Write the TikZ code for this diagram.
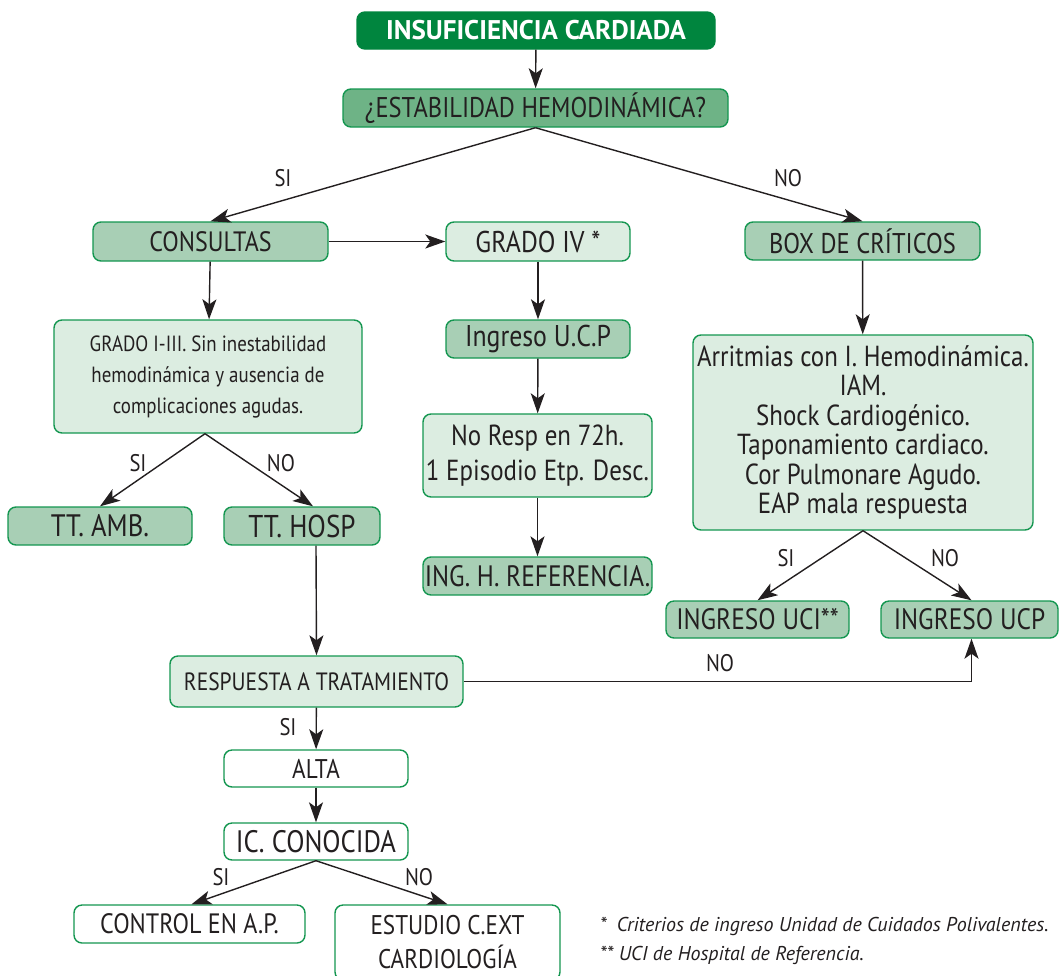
\documentclass[tikz,border=0pt]{standalone}
\usepackage{fontspec}
\setmainfont{PT Sans}[FakeStretch=0.86]
\newfontfamily\widesans{PT Sans}
\usetikzlibrary{arrows.meta}

\definecolor{ink}{RGB}{35,31,32}
\definecolor{dkgreen}{RGB}{0,133,62}
\definecolor{midgreen}{RGB}{110,179,134}
\definecolor{softgreen}{RGB}{168,207,181}
\definecolor{palegreen}{RGB}{220,237,225}
\definecolor{edgegreen}{RGB}{20,150,80}

\tikzset{
  box/.style={draw=edgegreen, line width=1.4pt, rounded corners=8pt, inner sep=0pt,
    align=center, text=ink, font=\fontsize{28}{34}\selectfont},
  fs/.style={font=\fontsize{#1}{34}\selectfont},
  flow/.style={draw=ink, line width=1.4pt, -{Stealth[length=20pt,width=14pt,inset=5pt]}},
  lbl/.style={text=ink, inner sep=0pt, font=\fontsize{24}{28}\selectfont},
  note/.style={text=ink, inner sep=0pt, anchor=west, font=\widesans\fontsize{20}{24}\selectfont\itshape},
}

\begin{document}
\begin{tikzpicture}[x=1pt,y=-1pt]
\useasboundingbox (0,0) rectangle (1060,975);

% top of the chart
\node[box, fill=dkgreen, draw=dkgreen, text=white, minimum width=358pt, minimum height=37pt,
  font=\widesans\bfseries\fontsize{27}{30}\selectfont] (insuf) at (536,30.5) {INSUFICIENCIA CARDIADA};
\node[box, fill=midgreen, minimum width=385pt, minimum height=38pt, fs=28.5] (estab) at (535.5,108) {¿ESTABILIDAD HEMODINÁMICA?};

% second row
\node[box, fill=softgreen, minimum width=235pt, minimum height=39pt] (consultas) at (210.5,241.5) {CONSULTAS};
\node[box, fill=palegreen, minimum width=184pt, minimum height=39pt, fs=30] (gradoiv) at (538,241.5) {GRADO IV *};
\node[box, fill=softgreen, minimum width=235pt, minimum height=38pt, fs=28.5] (criticos) at (862.5,241) {BOX DE CRÍTICOS};

% left branch
\node[box, fill=palegreen, minimum width=308pt, minimum height=113pt,
  font=\fontsize{22}{31}\selectfont] (gradoi) at (208,376.5)
  {GRADO I-III. Sin inestabilidad\\hemodinámica y ausencia de\\complicaciones agudas.};
\node[box, fill=softgreen, minimum width=184pt, minimum height=38pt, fs=31] (ttamb) at (100,526) {TT. AMB.};
\node[box, fill=softgreen, minimum width=156pt, minimum height=38pt, fs=31.5] (tthosp) at (302,526) {TT. HOSP};

% middle branch
\node[box, fill=softgreen, minimum width=184pt, minimum height=38pt, fs=30] (ucp) at (538,339) {Ingreso U.C.P};
\node[box, fill=palegreen, minimum width=229pt, minimum height=83pt,
  font=\fontsize{29}{35}\selectfont] (noresp) at (537.5,455.5) {No Resp en 72h.\\1 Episodio Etp. Desc.};
\node[box, fill=softgreen, minimum width=229pt, minimum height=38pt, fs=29.5] (inghref) at (537.5,576) {ING. H. REFERENCIA.};

% right branch
\node[box, fill=palegreen, minimum width=340pt, minimum height=195pt,
  font=\fontsize{29}{29.5}\selectfont] (arrit) at (863,432.5)
  {Arritmias con I. Hemodinámica.\\IAM.\\Shock Cardiogénico.\\Taponamiento cardiaco.\\Cor Pulmonare Agudo.\\EAP mala respuesta};
\node[box, fill=softgreen, minimum width=183pt, minimum height=37pt, fs=29.5] (uci) at (757.5,619.5) {INGRESO UCI**};
\node[box, fill=softgreen, minimum width=177pt, minimum height=37pt, fs=29.5] (ingucp) at (969.5,619.5) {INGRESO UCP};

% lower part
\node[box, fill=palegreen, minimum width=293pt, minimum height=51pt, fs=25] (resp) at (316.5,681.5) {RESPUESTA A TRATAMIENTO};
\node[box, fill=white, minimum width=184pt, minimum height=37pt, fs=27] (alta) at (316,768.5) {ALTA};
\node[box, fill=white, minimum width=184pt, minimum height=37pt, fs=31] (ic) at (316,841.5) {IC. CONOCIDA};
\node[box, fill=white, minimum width=231pt, minimum height=38pt] (control) at (189.5,924) {CONTROL EN A.P.};
\node[box, fill=white, minimum width=225pt, minimum height=75pt, fs=27] (estudio) at (447.5,942.5) {ESTUDIO C.EXT\\CARDIOLOGÍA};

% connectors
\draw[flow] (insuf) -- (estab);
\draw[flow] (estab.south) -- (consultas.north);
\draw[flow] (estab.south) -- (criticos.north);
\draw[flow] (consultas) -- (gradoiv);
\draw[flow] (consultas) -- (gradoi);
\draw[flow] (gradoiv) -- (ucp);
\draw[flow] (ucp) -- (noresp);
\draw[flow] (noresp) -- (inghref);
\draw[flow] (criticos) -- (arrit);
\draw[flow] ([xshift=-3pt]gradoi.south) -- (ttamb.north);
\draw[flow] ([xshift=-3pt]gradoi.south) -- ([xshift=11pt]tthosp.north);
\draw[flow] ([xshift=14pt]tthosp.south) -- (resp.north);
\draw[flow] (arrit.south) -- (uci.north);
\draw[flow] (arrit.south) -- ([xshift=2pt]ingucp.north);
\draw[flow] (resp.east) -| ([xshift=2pt]ingucp.south);
\draw[flow] (resp) -- (alta);
\draw[flow] (alta) -- (ic);
\draw[flow] (ic.south) -- ([xshift=2pt]control.north);
\draw[flow] (ic.south) -- (estudio.north);

% branch labels
\node[lbl] (l1) at (283,178) {SI};
\node[lbl] (l2) at (788,178) {NO};
\node[lbl] (l3) at (138,463) {SI};
\node[lbl] (l4) at (281,463) {NO};
\node[lbl] (l5) at (786,558) {SI};
\node[lbl] (l6) at (945,558) {NO};
\node[lbl] (l7) at (720,663) {NO};
\node[lbl] (l8) at (288,727) {SI};
\node[lbl] (l9) at (221,877) {SI};
\node[lbl] (l10) at (419,877) {NO};

% footnotes
\node[note] (n1) at (600,926) {*\enspace Criterios de ingreso Unidad de Cuidados Polivalentes.};
\node[note] (n2) at (600,955) {** UCI de Hospital de Referencia.};
\end{tikzpicture}
\end{document}
